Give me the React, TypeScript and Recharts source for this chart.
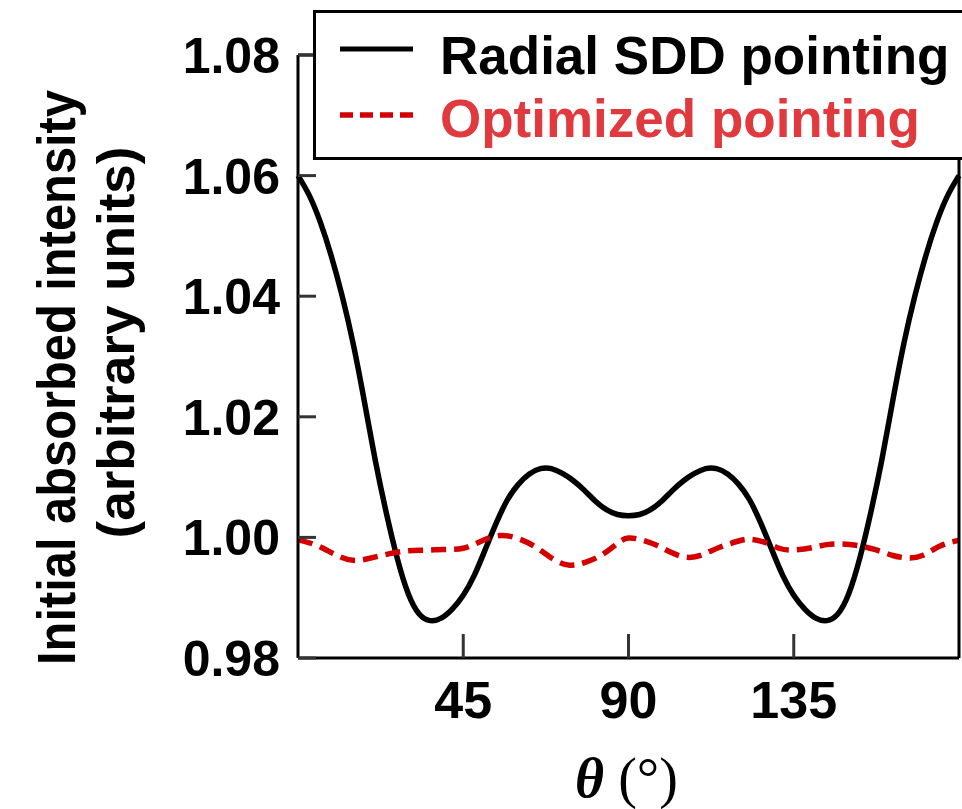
import { Legend, Line, LineChart, XAxis, YAxis } from 'recharts';

const SANS = '"Liberation Sans", Arial, Helvetica, sans-serif';
const SERIF = '"Liberation Serif", "DejaVu Serif", serif';
const RED_LINE = '#d40000';
const RED_TEXT = '#e0393e';

// radial SDD pointing, sampled every 3 degrees
const RADIAL_THETA = [
  0, 3, 6, 9, 12, 15, 18, 21, 24, 27, 30, 33, 36, 39, 42, 45, 48, 51, 54, 57, 60, 63, 66, 69, 72, 75, 78, 81, 84, 87,
  90, 93, 96, 99, 102, 105, 108, 111, 114, 117, 120, 123, 126, 129, 132, 135, 138, 141, 144, 147, 150, 153, 156, 159,
  162, 165, 168, 171, 174, 177, 180,
];
const RADIAL_VALUES = [
  1.06, 1.0568, 1.0524, 1.0468, 1.0401, 1.0322, 1.0228, 1.0129, 1.0042, 0.9966, 0.9907, 0.9873, 0.9862, 0.9866, 0.9881,
  0.9904, 0.9937, 0.998, 1.0024, 1.0062, 1.0088, 1.0105, 1.0114, 1.0114, 1.0106, 1.0094, 1.0078, 1.006, 1.0046, 1.0038,
  1.0036, 1.0038, 1.0046, 1.006, 1.0078, 1.0094, 1.0106, 1.0114, 1.0114, 1.0105, 1.0088, 1.0062, 1.0024, 0.998, 0.9937,
  0.9904, 0.9881, 0.9866, 0.9862, 0.9873, 0.9907, 0.9966, 1.0042, 1.0129, 1.0228, 1.0322, 1.0401, 1.0468, 1.0524,
  1.0568, 1.06,
];

// optimized pointing
const OPT_THETA = [
  0, 5, 10, 15, 20, 25, 30, 35, 40, 45, 50, 55, 60, 65, 70, 74, 78, 83, 87, 90, 94, 98, 102, 106, 110, 115, 120, 123,
  127, 131, 135, 140, 144, 148, 152, 157, 162, 166, 170, 175, 180,
];
const OPT_VALUES = [
  0.9996, 0.9987, 0.9972, 0.9962, 0.9966, 0.9973, 0.9978, 0.9979, 0.998, 0.9982, 0.9994, 1.0003, 0.9998, 0.9983, 0.9962,
  0.9954, 0.9958, 0.9972, 0.999, 0.9999, 0.9995, 0.9986, 0.9974, 0.9967, 0.9971, 0.9984, 0.9994, 0.9997, 0.9992, 0.9982,
  0.9979, 0.9983, 0.9988, 0.9989, 0.9987, 0.998, 0.997, 0.9966, 0.997, 0.9986, 0.9995,
];

const Y_TICKS = [0.98, 1.0, 1.02, 1.04, 1.06, 1.08];
const X_TICKS = [45, 90, 135];

const radialData = RADIAL_THETA.map((theta, i) => ({ theta, value: RADIAL_VALUES[i] }));
const optimizedData = OPT_THETA.map((theta, i) => ({ theta, value: OPT_VALUES[i] }));

function LeftTick({ x, y, payload }: any) {
  return (
    <g>
      <line x1={x} x2={x + 18} y1={y} y2={y} stroke="#333" strokeWidth={3} />
      <text x={x - 18} y={y + 18} textAnchor="end" fontFamily={SANS} fontWeight="bold" fontSize={50} fill="#000">
        {Number(payload.value).toFixed(2)}
      </text>
    </g>
  );
}

function RightTick({ x, y }: any) {
  return <line x1={x - 18} x2={x} y1={y} y2={y} stroke="#333" strokeWidth={3} />;
}

function BottomTick({ x, y, payload }: any) {
  return (
    <g>
      <line x1={x} x2={x} y1={y} y2={y - 24} stroke="#333" strokeWidth={3} />
      <text x={x} y={y + 60} textAnchor="middle" fontFamily={SANS} fontWeight="bold" fontSize={52} fill="#000">
        {payload.value}
      </text>
    </g>
  );
}

function YTitle({ viewBox }: any) {
  const cy = viewBox.y + viewBox.height / 2;
  return (
    <g fontFamily={SANS} fontWeight="bold" fill="#000">
      <text
        x={75}
        y={cy + 21}
        transform={`rotate(-90, 75, ${cy + 21})`}
        textAnchor="middle"
        fontSize={54}
        textLength={575}
        lengthAdjust="spacingAndGlyphs"
      >
        Initial absorbed intensity
      </text>
      <text
        x={134}
        y={cy - 14}
        transform={`rotate(-90, 134, ${cy - 14})`}
        textAnchor="middle"
        fontSize={52}
        textLength={392}
        lengthAdjust="spacingAndGlyphs"
      >
        (arbitrary units)
      </text>
    </g>
  );
}

function XTitle({ viewBox }: any) {
  const cx = viewBox.x + viewBox.width / 2;
  return (
    <text x={cx - 2} y={viewBox.y + 139} textAnchor="middle" fontFamily={SERIF} fontSize={56} fill="#000">
      <tspan fontStyle="italic" fontWeight="bold">
        θ
      </tspan>{' '}
      (°)
    </text>
  );
}

function LegendBox() {
  return (
    <div
      style={{
        width: 680,
        height: 150,
        boxSizing: 'border-box',
        border: '3px solid #000',
        background: '#fff',
      }}
    >
      <svg width={680} height={150} style={{ display: 'block', marginLeft: -3, marginTop: -3 }}>
        <line x1={27} x2={100} y1={39} y2={39} stroke="#000" strokeWidth={5} />
        <text x={127} y={64} fontFamily={SANS} fontWeight="bold" fontSize={53} fill="#000">
          Radial SDD pointing
        </text>
        <line x1={27} x2={100} y1={105} y2={105} stroke={RED_LINE} strokeWidth={5.5} strokeDasharray="13 7" />
        <text x={127} y={127} fontFamily={SANS} fontWeight="bold" fontSize={53} fill={RED_TEXT}>
          Optimized pointing
        </text>
      </svg>
    </div>
  );
}

export default function App() {
  return (
    <div style={{ position: 'absolute', left: 0, top: 0, width: 962, height: 809, background: '#fff' }}>
      <LineChart width={962} height={809} margin={{ top: 0, right: 0, bottom: 0, left: 0 }}>
        <XAxis
          dataKey="theta"
          type="number"
          domain={[0, 180]}
          ticks={X_TICKS}
          allowDuplicatedCategory={false}
          height={151}
          tickSize={0}
          tickMargin={0}
          tickLine={false}
          axisLine={{ stroke: '#000', strokeWidth: 3 }}
          tick={<BottomTick />}
          label={<XTitle />}
        />
        <XAxis
          xAxisId="top"
          orientation="top"
          dataKey="theta"
          type="number"
          domain={[0, 180]}
          height={55}
          tick={false}
          tickLine={false}
          axisLine={{ stroke: '#000', strokeWidth: 3 }}
        />
        <YAxis
          type="number"
          domain={[0.98, 1.08]}
          ticks={Y_TICKS}
          width={298}
          tickSize={0}
          tickMargin={0}
          tickLine={false}
          axisLine={{ stroke: '#000', strokeWidth: 3 }}
          tick={<LeftTick />}
          label={<YTitle />}
        />
        <YAxis
          yAxisId="right"
          orientation="right"
          type="number"
          domain={[0.98, 1.08]}
          ticks={Y_TICKS}
          width={3}
          tickSize={0}
          tickMargin={0}
          tickLine={false}
          axisLine={{ stroke: '#000', strokeWidth: 3 }}
          tick={<RightTick />}
        />
        <Line
          data={radialData}
          dataKey="value"
          type="natural"
          stroke="#000"
          strokeWidth={5.5}
          dot={false}
          isAnimationActive={false}
        />
        <Line
          data={optimizedData}
          dataKey="value"
          type="natural"
          stroke={RED_LINE}
          strokeWidth={5.5}
          strokeDasharray="15 8"
          dot={false}
          isAnimationActive={false}
        />
        <Legend
          layout="vertical"
          align="center"
          verticalAlign="middle"
          content={<LegendBox />}
          wrapperStyle={{ position: 'absolute', left: 313, top: 10, width: 680, height: 150 }}
        />
      </LineChart>
    </div>
  );
}
